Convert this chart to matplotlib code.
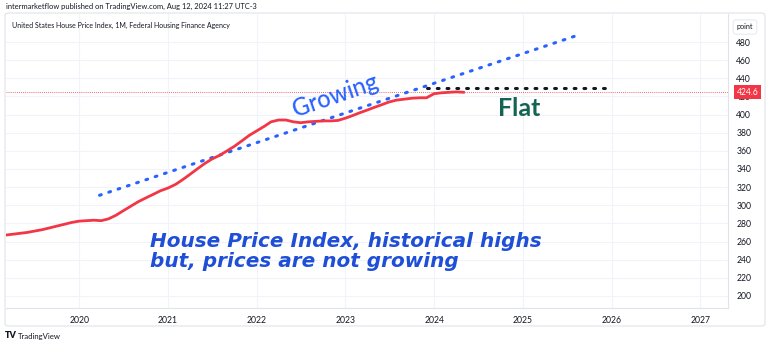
import matplotlib.pyplot as plt
import matplotlib.patches as patches
import pandas as pd

# monthly FHFA house price index
months = pd.date_range("2019-03-01", "2024-05-01", freq="MS")
hpi = [267, 268, 269, 270, 271.5, 273, 275, 277, 279, 281,
       282.5, 283, 283.5, 283, 285, 289, 294, 299, 304, 308, 312, 316,
       319, 323, 328, 334, 340, 346, 351, 355, 360, 365, 371, 377,
       382, 387, 392, 394, 394, 392, 391, 392, 392.5, 393, 393, 393.5,
       396, 399, 402, 405, 408, 411, 414, 416, 417, 418, 418.5, 418.5,
       423, 424, 424.5, 425, 424.6]
last_price = 424.6

# hand-drawn trend lines (start, end)
growing_x = [pd.Timestamp("2020-03-25"), pd.Timestamp("2025-08-20")]
growing_y = [311, 488]
flat_x = [pd.Timestamp("2023-12-05"), pd.Timestamp("2025-12-15")]
flat_y = [429.3, 429.3]

year_ticks = [2020, 2021, 2022, 2023, 2024, 2025, 2026, 2027]
price_ticks = list(range(200, 481, 20))

W, H = 768, 347
fig = plt.figure(figsize=(W / 100, H / 100), dpi=100)
fig.patch.set_facecolor("white")
plt.rcParams["font.family"] = ["Lato", "DejaVu Sans"]

# outer frame
fig.add_artist(patches.FancyBboxPatch((5 / W, 1 - 326 / H), 760 / W, 313 / H,
                                      boxstyle="round,pad=0,rounding_size=0.006",
                                      transform=fig.transFigure, fc="none",
                                      ec="#e0e3eb", lw=0.8))

ax = fig.add_axes([6 / W, 1 - 308 / H, 722 / W, 294 / H])
ax.plot(months, hpi, color="#f23645", lw=2.0, zorder=4)
ax.plot(growing_x, growing_y, color="#2962ff", lw=2.2, ls=(0, (0.6, 2.6)),
        dash_capstyle="round", zorder=3)
ax.plot(flat_x, flat_y, color="#131722", lw=2.2, ls=(0, (0.6, 2.6)),
        dash_capstyle="round", zorder=3)
ax.axhline(last_price, color="#f23645", lw=0.6, ls=(0, (1, 1.5)), zorder=2)

ax.set_xlim(pd.Timestamp("2019-03-06"), pd.Timestamp("2027-04-25"))
ax.set_ylim(186.7, 510.9)
ax.set_xticks([pd.Timestamp(f"{y}-01-01") for y in year_ticks])
ax.set_xticklabels([str(y) for y in year_ticks])
ax.set_yticks(price_ticks)
ax.yaxis.tick_right()
ax.tick_params(axis="both", length=0, labelsize=6.2, colors="#131722")
ax.tick_params(axis="x", pad=6)
ax.tick_params(axis="y", pad=6)
ax.grid(True, color="#f0f3fa", lw=0.8)
for s in ax.spines.values():
    s.set_visible(False)
ax.spines["right"].set_visible(True)
ax.spines["right"].set_color("#e0e3eb")
ax.spines["bottom"].set_visible(True)
ax.spines["bottom"].set_color("#e0e3eb")

# annotations
ax.text(pd.Timestamp("2022-11-20"), 421, "Growing", rotation=19, color="#2962ff",
        fontsize=17, fontweight="medium", ha="center", va="center", zorder=5)
ax.text(pd.Timestamp("2024-12-15"), 407, "Flat", color="#136451",
        fontsize=18, fontweight="bold", ha="center", va="center", zorder=5)
ax.text(pd.Timestamp("2020-10-20"), 249, "House Price Index, historical highs\nbut, prices are not growing",
        color="#1e4fd6", fontsize=14.4, fontweight="bold", fontstyle="italic",
        family=["DejaVu Sans"], ha="left", va="center", linespacing=1.12, zorder=5)

# price label
ax.text(1.012, last_price, f"{last_price}", transform=ax.get_yaxis_transform(),
        color="white", fontsize=6.2, ha="left", va="center", zorder=6,
        bbox=dict(boxstyle="square,pad=0.3", fc="#f23645", ec="none"))

# header / footer texts
fig.text(6 / W, 1 - 6 / H, "intermarketflow published on TradingView.com, Aug 12, 2024 11:27 UTC-3",
         fontsize=5.4, color="#131722", ha="left", va="center")
fig.text(12 / W, 1 - 25 / H, "United States House Price Index, 1M, Federal Housing Finance Agency",
         fontsize=5.0, color="#131722", ha="left", va="center")
fig.text(745 / W, 1 - 27 / H, "point", fontsize=5.2, color="#131722", ha="center", va="center",
         bbox=dict(boxstyle="round,pad=0.5,rounding_size=0.4", fc="white", ec="#e0e3eb", lw=0.6))
fig.text(5 / W, 1 - 336 / H, "TV", fontsize=6.5, fontweight="heavy", color="#131722",
         ha="left", va="center")
fig.text(18 / W, 1 - 336 / H, "TradingView", fontsize=5.6, color="#131722",
         ha="left", va="center")

fig.savefig("out.png", dpi=100)
